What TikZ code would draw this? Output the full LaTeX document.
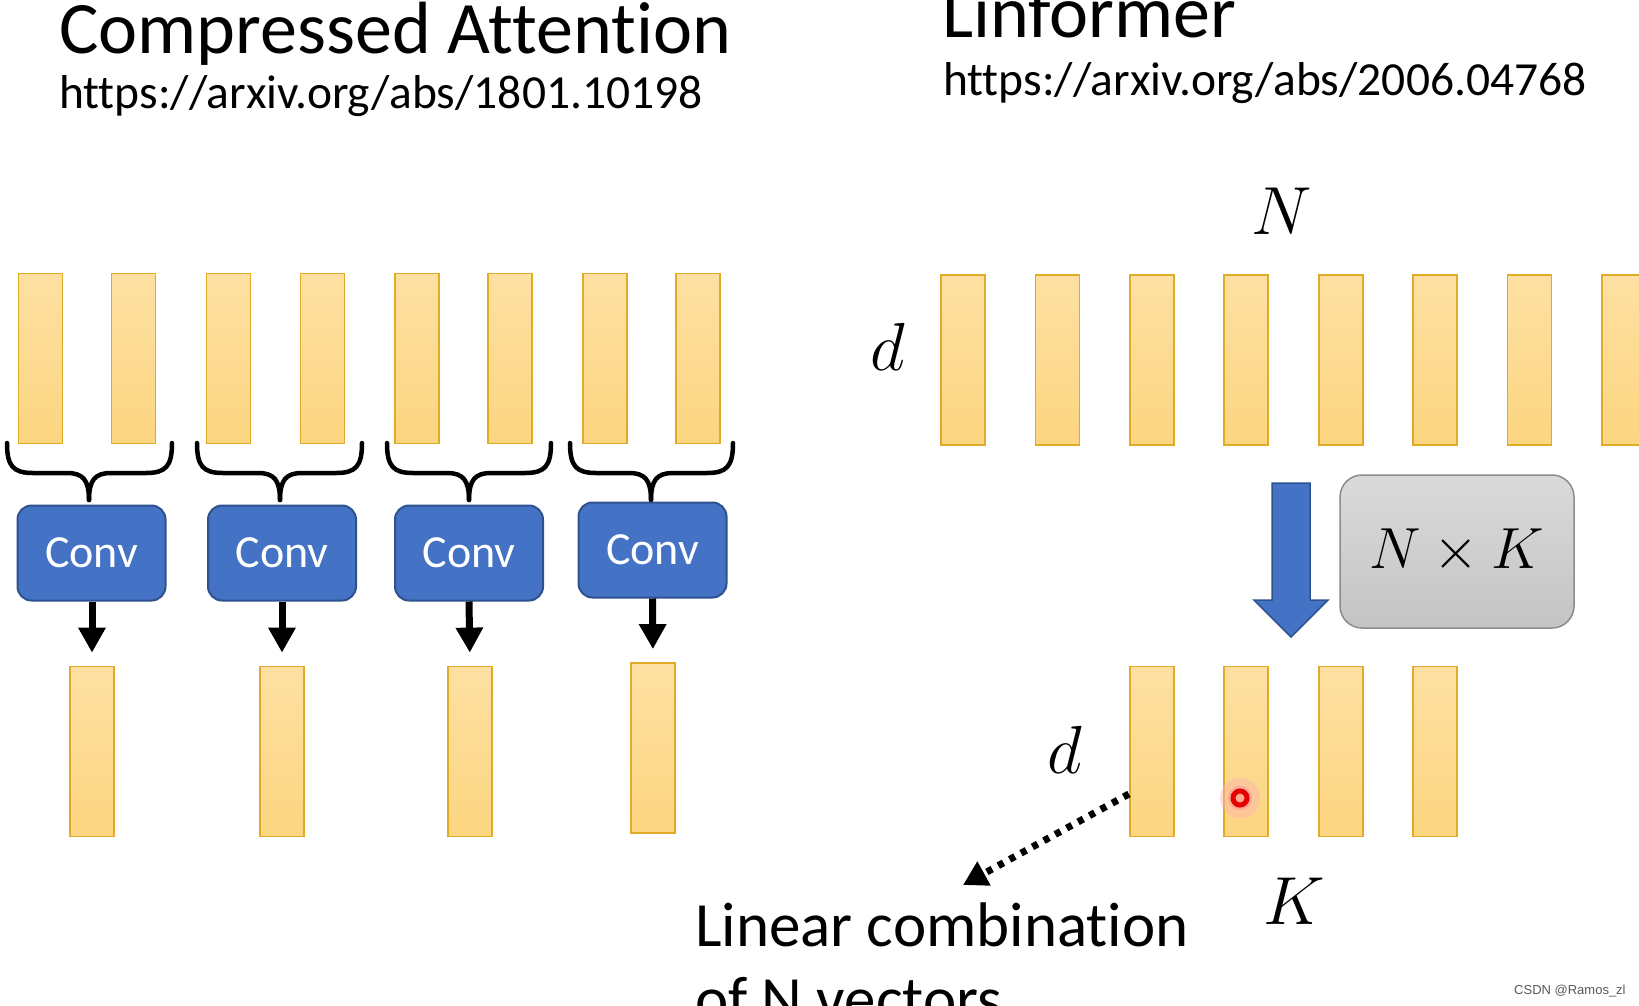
\RequirePackage{fix-cm}
\documentclass[tikz,border=0pt]{standalone}
\usepackage{fontspec}
\setmainfont{Carlito}[Ligatures={NoCommon,NoRequired,NoContextual}]
\newfontfamily\wmfont{Liberation Sans}
\usetikzlibrary{arrows.meta,calc}
\definecolor{bartop}{HTML}{FDE0A2}
\definecolor{barbot}{HTML}{FCD580}
\definecolor{barline}{HTML}{E0AC28}
\definecolor{convblue}{HTML}{4472C4}
\definecolor{convline}{HTML}{2F528F}
\definecolor{boxtop}{HTML}{DADADA}
\definecolor{boxbot}{HTML}{C4C4C4}
\definecolor{boxline}{HTML}{8C8C8C}
\newcommand\mybracedraw[3]{%
  \draw[bracestyle] (#1,443) .. controls (#1,466) and ({#1+6},473) .. ({#1+26},473) -- ({#2-22},473) .. controls ({#2-6},473) and (#2,480) .. (#2,500);
  \draw[bracestyle] (#3,443) .. controls (#3,466) and ({#3-6},473) .. ({#3-26},473) -- ({#2+22},473) .. controls ({#2+6},473) and (#2,480) .. (#2,500);
}
\tikzset{
  bar/.style={draw=barline, line width=1.8pt, top color=bartop, bottom color=barbot, minimum width=44pt, minimum height=170pt, inner sep=0pt},
  conv/.style={draw=convline, line width=2pt, fill=convblue, rounded corners=14pt, minimum width=148pt, minimum height=95pt, text=white, font=\fontsize{46}{50}\selectfont},
  bracestyle/.style={line width=4.5pt, line cap=round, line join=round},
  blackarrow/.style={line width=7pt, -{Triangle[width=26pt,length=25pt]}, shorten >=13pt},
  bigtitle/.style={anchor=base west, inner sep=0pt, font=\fontsize{74}{80}\selectfont},
  urltext/.style={anchor=base west, inner sep=0pt, font=\fontsize{47.5}{54}\selectfont},
  mathlbl/.style={inner sep=0pt, font=\fontsize{68}{75}\selectfont},
}
\begin{document}
\begin{tikzpicture}[x=1pt,y=-1pt]
\clip (0,0) rectangle (1639,1005);
\fill[white] (0,0) rectangle (1639,1005);

% titles
\node[bigtitle] (t1) at (59,53) {Compressed Attention};
\node[urltext] (u1) at (59,108) {https://arxiv.org/abs/1801.10198};
\node[bigtitle] (t2) at (942,37) {Linformer};
\node[urltext] (u2) at (943,95) {https://arxiv.org/abs/2006.04768};

% left: input bars
\foreach \i/\x in {1/40.5,2/133.5,3/228.5,4/322.5,5/417,6/510,7/605,8/698}
  \node[bar] (a\i) at (\x,358.5) {};

% braces
\mybracedraw{7}{89}{172}
\mybracedraw{197}{280}{362}
\mybracedraw{387}{469}{551}
\mybracedraw{570}{651}{733}

% conv boxes
\node[conv] (c1) at (91.5,553) {Conv};
\node[conv] (c2) at (282,553) {Conv};
\node[conv] (c3) at (469,553) {Conv};
\node[conv] (c4) at (652.5,550) {Conv};

% output bars
\node[bar] (o1) at (92,751.5) {};
\node[bar] (o2) at (282,751.5) {};
\node[bar] (o3) at (470,751.5) {};
\node[bar] (o4) at (653,748) {};

\draw[blackarrow] (c1.south -| o1) -- (o1.north);
\draw[blackarrow] (c2.south) -- (o2.north);
\draw[blackarrow] (c3.south) -- (o3.north);
\draw[blackarrow] (c4.south) -- (o4.north);

% right: Linformer
\node[mathlbl] (nlbl) at (1282,211) {$N$};
\node[mathlbl] (dtop) at (888,347) {$d$};
\foreach \i/\x in {1/963,2/1057.4,3/1151.8,4/1246.2,5/1340.6,6/1435,7/1529.4,8/1623.8}
  \node[bar] (r\i) at (\x,360) {};

\draw[convline, line width=1.5pt, fill=convblue]
  (1272,483) -- (1310,483) -- (1310,600) -- (1328,600) -- (1291,637) -- (1254,600) -- (1272,600) -- cycle;

\node[draw=boxline, line width=1.5pt, top color=boxtop, bottom color=boxbot, rounded corners=22pt,
      minimum width=234pt, minimum height=153pt, inner sep=0pt, font=\fontsize{58}{64}\selectfont]
  (nk) at (1457,551.5) {$N\times K$};

\foreach \i/\x in {1/1151.8,2/1246.2,3/1340.6,4/1435}
  \node[bar] (k\i) at (\x,751.5) {};

\node[mathlbl] (dbot) at (1065,750) {$d$};
\node[mathlbl] (klbl) at (1294,901) {$K$};

% cursor mark
\fill[red!30, opacity=0.45] (1240,798) circle (20);
\fill[red!45, opacity=0.5] (1240,798) circle (12);
\node[circle, draw=red!90!black, line width=5pt, minimum size=14pt, inner sep=0pt] (cur) at (1240,798) {};

% dotted arrow
\coordinate (lcend) at (963,885);
\draw[line width=7pt, dash pattern=on 6pt off 7pt, -{Triangle[width=26pt,length=24pt]}]
  ([yshift=-42.5pt]k1.west) -- (lcend);

\node[anchor=base west, inner sep=0pt, font=\fontsize{63}{70}\selectfont] (lc1) at (695,946) {Linear combination};
\node[anchor=base west, inner sep=0pt, font=\fontsize{63}{70}\selectfont] (lc2) at (695,1020) {of N vectors};

\node[anchor=base west, inner sep=0pt, text=black!65, font=\wmfont\fontsize{13}{15}\selectfont] (wm) at (1514,994) {CSDN @Ramos\_zl};
\end{tikzpicture}
\end{document}
